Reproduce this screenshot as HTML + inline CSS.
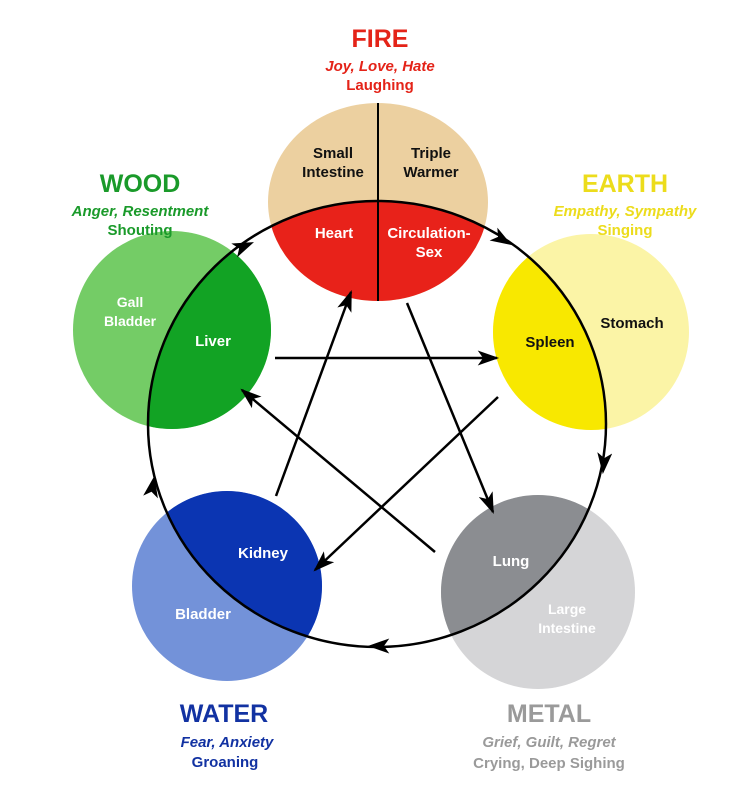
<!DOCTYPE html>
<html><head><meta charset="utf-8"><style>
body{margin:0;background:#fff;}
svg{display:block;}
text{font-family:"Liberation Sans",sans-serif;font-weight:bold;text-anchor:middle;}
</style></head><body>
<svg width="736" height="811" viewBox="0 0 736 811" xmlns="http://www.w3.org/2000/svg">
<defs>
<clipPath id="big"><ellipse cx="377" cy="424" rx="229" ry="223"/></clipPath>
<marker id="ah" viewBox="0 0 20 14" refX="18" refY="7" markerWidth="22" markerHeight="15" markerUnits="userSpaceOnUse" orient="auto">
<path d="M0,0 L20,7 L0,14 L5,7 Z" fill="#000"/></marker>
</defs>
<ellipse cx="378" cy="202" rx="110" ry="99" fill="#ecd0a0"/>
<circle cx="591" cy="332" r="98" fill="#fbf4a6"/>
<circle cx="172" cy="330" r="99" fill="#74cc66"/>
<circle cx="227" cy="586" r="95" fill="#7392d9"/>
<circle cx="538" cy="592" r="97" fill="#d5d5d7"/>
<g clip-path="url(#big)">
<ellipse cx="378" cy="202" rx="110" ry="99" fill="#e8221a"/>
<circle cx="591" cy="332" r="98" fill="#f8e800"/>
<circle cx="172" cy="330" r="99" fill="#12a324"/>
<circle cx="227" cy="586" r="95" fill="#0b35b2"/>
<circle cx="538" cy="592" r="97" fill="#8b8d91"/>
</g>
<line x1="378" y1="103" x2="378" y2="301" stroke="#000" stroke-width="2"/>
<ellipse cx="377" cy="424" rx="229" ry="223" fill="none" stroke="#000" stroke-width="2.5"/>
<path d="M228,253 L252,243" fill="none" marker-end="url(#ah)"/>
<path d="M490,232 L510,244" fill="none" marker-end="url(#ah)"/>
<path d="M605,450 L603,472" fill="none" marker-end="url(#ah)"/>
<path d="M392,646 L370,646" fill="none" marker-end="url(#ah)"/>
<path d="M150,500 L154,478" fill="none" marker-end="url(#ah)"/>
<g stroke="#000" stroke-width="2.5" fill="none">
<line x1="275" y1="358" x2="497" y2="358" marker-end="url(#ah)"/>
<line x1="276" y1="496" x2="351" y2="292" marker-end="url(#ah)"/>
<line x1="407" y1="303" x2="493" y2="512" marker-end="url(#ah)"/>
<line x1="498" y1="397" x2="315" y2="570" marker-end="url(#ah)"/>
<line x1="435" y1="552" x2="242" y2="390" marker-end="url(#ah)"/>
</g>
<g font-size="15">
<text x="333" y="158" fill="#111">Small</text>
<text x="333" y="177" fill="#111">Intestine</text>
<text x="431" y="158" fill="#111">Triple</text>
<text x="431" y="177" fill="#111">Warmer</text>
<text x="334" y="238" fill="#fff">Heart</text>
<text x="429" y="238" fill="#fff">Circulation-</text>
<text x="429" y="257" fill="#fff">Sex</text>
<text x="550" y="347" fill="#111">Spleen</text>
<text x="632" y="328" fill="#111">Stomach</text>
<text x="213" y="346" fill="#fff">Liver</text>
<text x="130" y="307" fill="#fff" font-size="14">Gall</text>
<text x="130" y="326" fill="#fff" font-size="14">Bladder</text>
<text x="263" y="558" fill="#fff">Kidney</text>
<text x="203" y="619" fill="#fff">Bladder</text>
<text x="511" y="566" fill="#fff">Lung</text>
<text x="567" y="614" fill="#fff" font-size="14">Large</text>
<text x="567" y="633" fill="#fff" font-size="14">Intestine</text>
</g>
<text x="380" y="47" font-size="25" fill="#e42318">FIRE</text>
<text x="380" y="71" font-size="15" font-style="italic" fill="#e42318">Joy, Love, Hate</text>
<text x="380" y="90" font-size="15" fill="#e42318">Laughing</text>
<text x="140" y="192" font-size="25" fill="#1a9a2a">WOOD</text>
<text x="140" y="216" font-size="15" font-style="italic" fill="#1a9a2a">Anger, Resentment</text>
<text x="140" y="235" font-size="15" fill="#1a9a2a">Shouting</text>
<text x="625" y="192" font-size="25" fill="#ecdc1c">EARTH</text>
<text x="625" y="216" font-size="15" font-style="italic" fill="#ecdc1c">Empathy, Sympathy</text>
<text x="625" y="235" font-size="15" fill="#ecdc1c">Singing</text>
<text x="224" y="722" font-size="25" fill="#1232a2">WATER</text>
<text x="227" y="747" font-size="15" font-style="italic" fill="#1232a2">Fear, Anxiety</text>
<text x="225" y="767" font-size="15" fill="#1232a2">Groaning</text>
<text x="549" y="722" font-size="25" fill="#9a9a9a">METAL</text>
<text x="549" y="747" font-size="15" font-style="italic" fill="#9a9a9a">Grief, Guilt, Regret</text>
<text x="549" y="768" font-size="15" fill="#9a9a9a">Crying, Deep Sighing</text>
</svg>
</body></html>
